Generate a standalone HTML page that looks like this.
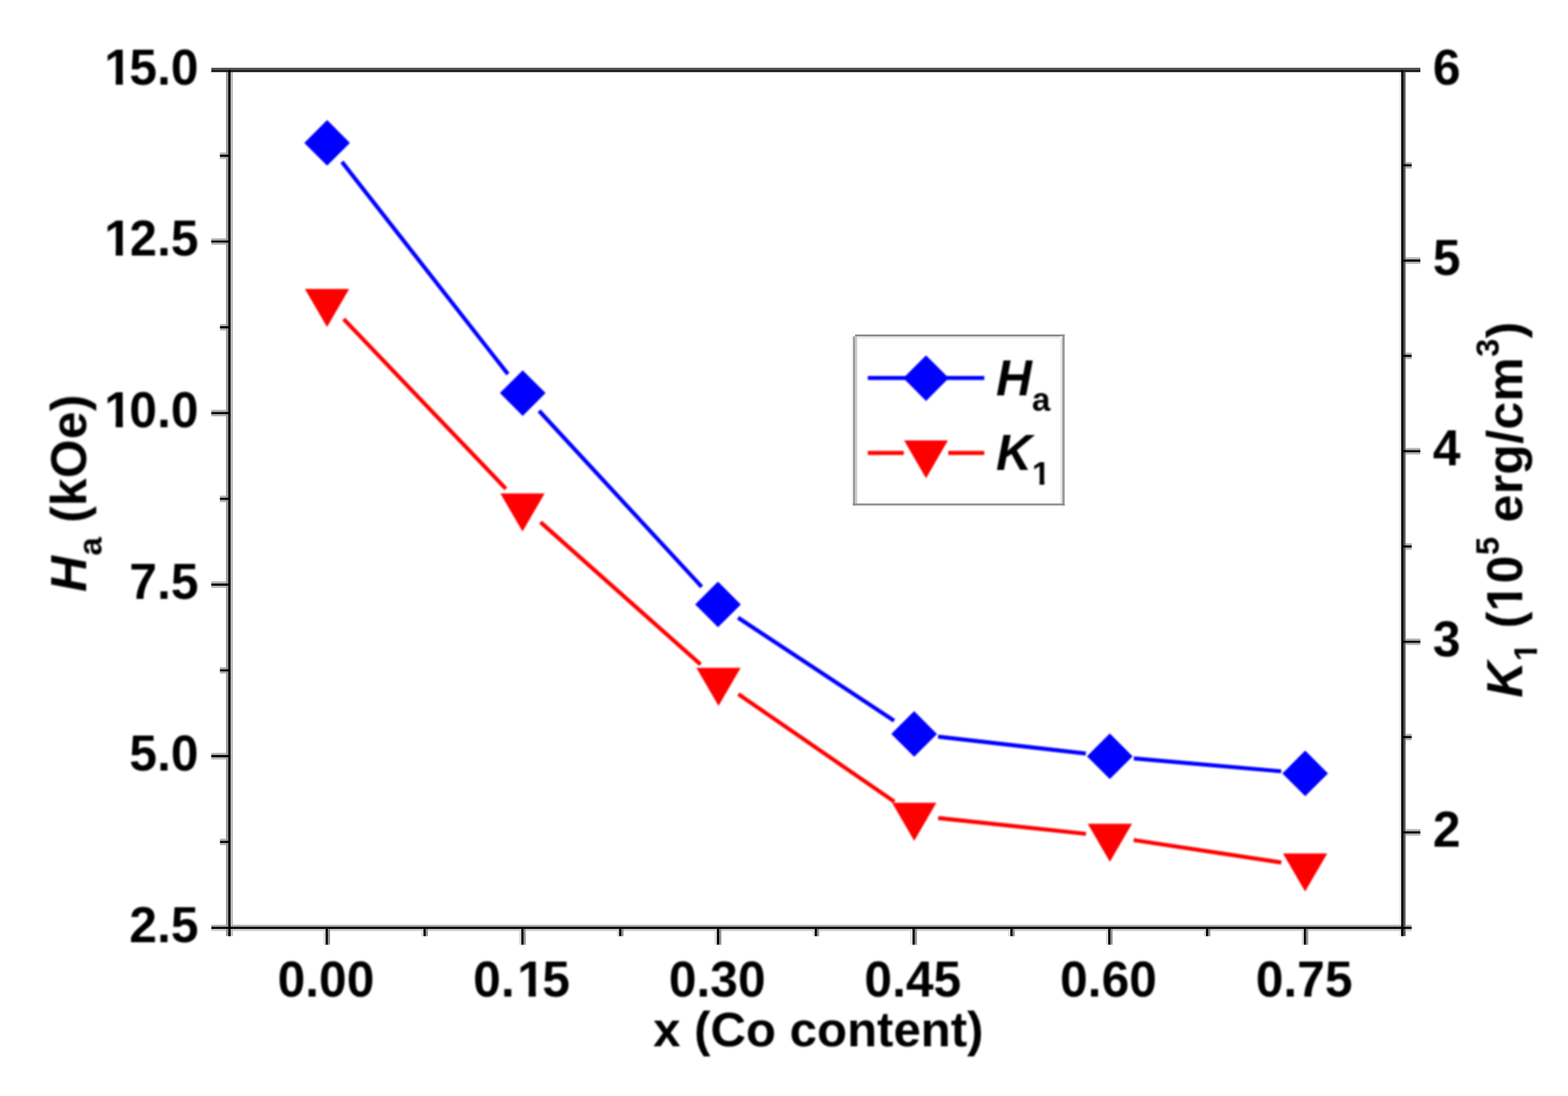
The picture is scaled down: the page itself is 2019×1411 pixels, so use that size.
<!DOCTYPE html>
<html lang="en">
<head>
<meta charset="utf-8">
<title>Ha and K1 versus Co content</title>
<style>
html,body{margin:0;padding:0;background:#ffffff;}
body{width:2019px;height:1411px;overflow:hidden;position:relative;}
svg{display:block;position:absolute;left:0;top:0;}
</style>
</head>
<body>
<svg width="2019" height="1411" viewBox="0 0 2019 1411">
<defs><filter id="soft" x="0" y="0" width="2019" height="1411" filterUnits="userSpaceOnUse" color-interpolation-filters="sRGB"><feGaussianBlur stdDeviation="0.85"/></filter></defs>
<rect x="0" y="0" width="2019" height="1411" fill="#ffffff"/>
<g id="frame">
<rect x="291.0" y="90.0" width="3.00" height="1115.20" fill="#999999" style="mix-blend-mode:darken"/>
<rect x="294.0" y="90.0" width="2.90" height="1115.20" fill="#000000" style="mix-blend-mode:darken"/>
<rect x="296.9" y="90.0" width="3.00" height="1115.20" fill="#bbbbbb" style="mix-blend-mode:darken"/>
<rect x="1801.5" y="90.0" width="2.70" height="1115.20" fill="#eeeeee" style="mix-blend-mode:darken"/>
<rect x="1804.2" y="90.0" width="2.80" height="1115.20" fill="#0a0a0a" style="mix-blend-mode:darken"/>
<rect x="1807.0" y="90.0" width="2.80" height="1115.20" fill="#555555" style="mix-blend-mode:darken"/>
<rect x="272.1" y="1190.6" width="1545.60" height="2.60" fill="#aaaaaa" style="mix-blend-mode:darken"/>
<rect x="272.1" y="1195.9" width="1545.60" height="2.70" fill="#cccccc" style="mix-blend-mode:darken"/>
<rect x="272.1" y="1193.2" width="1545.60" height="2.70" fill="#000000" style="mix-blend-mode:darken"/>
<rect x="294.0" y="1190.6" width="2.90" height="14.60" fill="#000000" style="mix-blend-mode:darken"/>
<rect x="1804.2" y="1190.6" width="2.80" height="14.60" fill="#0a0a0a" style="mix-blend-mode:darken"/>
<rect x="272.1" y="87.3" width="1556.80" height="2.50" fill="#444444" style="mix-blend-mode:darken"/>
<rect x="272.1" y="89.8" width="1556.80" height="3.10" fill="#222222" style="mix-blend-mode:darken"/>
<rect x="294.0" y="90.4" width="2.90" height="2.80" fill="#000000" style="mix-blend-mode:darken"/>
<rect x="1804.2" y="90.4" width="2.80" height="2.80" fill="#0a0a0a" style="mix-blend-mode:darken"/>
<rect x="283.2" y="196.32" width="11.80" height="2.80" fill="#b3b3b3" style="mix-blend-mode:darken"/>
<rect x="283.2" y="201.92" width="11.80" height="2.80" fill="#b3b3b3" style="mix-blend-mode:darken"/>
<rect x="283.2" y="199.12" width="11.80" height="2.80" fill="#000000" style="mix-blend-mode:darken"/>
<rect x="272.1" y="306.74" width="22.90" height="2.80" fill="#b3b3b3" style="mix-blend-mode:darken"/>
<rect x="272.1" y="312.34" width="22.90" height="2.80" fill="#b3b3b3" style="mix-blend-mode:darken"/>
<rect x="272.1" y="309.54" width="22.90" height="2.80" fill="#000000" style="mix-blend-mode:darken"/>
<rect x="283.2" y="417.16" width="11.80" height="2.80" fill="#b3b3b3" style="mix-blend-mode:darken"/>
<rect x="283.2" y="422.76" width="11.80" height="2.80" fill="#b3b3b3" style="mix-blend-mode:darken"/>
<rect x="283.2" y="419.96" width="11.80" height="2.80" fill="#000000" style="mix-blend-mode:darken"/>
<rect x="272.1" y="527.58" width="22.90" height="2.80" fill="#b3b3b3" style="mix-blend-mode:darken"/>
<rect x="272.1" y="533.18" width="22.90" height="2.80" fill="#b3b3b3" style="mix-blend-mode:darken"/>
<rect x="272.1" y="530.38" width="22.90" height="2.80" fill="#000000" style="mix-blend-mode:darken"/>
<rect x="283.2" y="638.0" width="11.80" height="2.80" fill="#b3b3b3" style="mix-blend-mode:darken"/>
<rect x="283.2" y="643.6" width="11.80" height="2.80" fill="#b3b3b3" style="mix-blend-mode:darken"/>
<rect x="283.2" y="640.8" width="11.80" height="2.80" fill="#000000" style="mix-blend-mode:darken"/>
<rect x="272.1" y="748.42" width="22.90" height="2.80" fill="#b3b3b3" style="mix-blend-mode:darken"/>
<rect x="272.1" y="754.02" width="22.90" height="2.80" fill="#b3b3b3" style="mix-blend-mode:darken"/>
<rect x="272.1" y="751.22" width="22.90" height="2.80" fill="#000000" style="mix-blend-mode:darken"/>
<rect x="283.2" y="858.84" width="11.80" height="2.80" fill="#b3b3b3" style="mix-blend-mode:darken"/>
<rect x="283.2" y="864.44" width="11.80" height="2.80" fill="#b3b3b3" style="mix-blend-mode:darken"/>
<rect x="283.2" y="861.64" width="11.80" height="2.80" fill="#000000" style="mix-blend-mode:darken"/>
<rect x="272.1" y="969.26" width="22.90" height="2.80" fill="#b3b3b3" style="mix-blend-mode:darken"/>
<rect x="272.1" y="974.86" width="22.90" height="2.80" fill="#b3b3b3" style="mix-blend-mode:darken"/>
<rect x="272.1" y="972.06" width="22.90" height="2.80" fill="#000000" style="mix-blend-mode:darken"/>
<rect x="283.2" y="1079.68" width="11.80" height="2.80" fill="#b3b3b3" style="mix-blend-mode:darken"/>
<rect x="283.2" y="1085.28" width="11.80" height="2.80" fill="#b3b3b3" style="mix-blend-mode:darken"/>
<rect x="283.2" y="1082.48" width="11.80" height="2.80" fill="#000000" style="mix-blend-mode:darken"/>
<rect x="1806.0" y="208.59" width="11.70" height="2.80" fill="#b3b3b3" style="mix-blend-mode:darken"/>
<rect x="1806.0" y="214.19" width="11.70" height="2.80" fill="#b3b3b3" style="mix-blend-mode:darken"/>
<rect x="1806.0" y="211.39" width="11.70" height="2.80" fill="#000000" style="mix-blend-mode:darken"/>
<rect x="1806.0" y="331.28" width="22.90" height="2.80" fill="#b3b3b3" style="mix-blend-mode:darken"/>
<rect x="1806.0" y="336.88" width="22.90" height="2.80" fill="#b3b3b3" style="mix-blend-mode:darken"/>
<rect x="1806.0" y="334.08" width="22.90" height="2.80" fill="#000000" style="mix-blend-mode:darken"/>
<rect x="1806.0" y="453.97" width="11.70" height="2.80" fill="#b3b3b3" style="mix-blend-mode:darken"/>
<rect x="1806.0" y="459.57" width="11.70" height="2.80" fill="#b3b3b3" style="mix-blend-mode:darken"/>
<rect x="1806.0" y="456.77" width="11.70" height="2.80" fill="#000000" style="mix-blend-mode:darken"/>
<rect x="1806.0" y="576.66" width="22.90" height="2.80" fill="#b3b3b3" style="mix-blend-mode:darken"/>
<rect x="1806.0" y="582.26" width="22.90" height="2.80" fill="#b3b3b3" style="mix-blend-mode:darken"/>
<rect x="1806.0" y="579.46" width="22.90" height="2.80" fill="#000000" style="mix-blend-mode:darken"/>
<rect x="1806.0" y="699.34" width="11.70" height="2.80" fill="#b3b3b3" style="mix-blend-mode:darken"/>
<rect x="1806.0" y="704.94" width="11.70" height="2.80" fill="#b3b3b3" style="mix-blend-mode:darken"/>
<rect x="1806.0" y="702.14" width="11.70" height="2.80" fill="#000000" style="mix-blend-mode:darken"/>
<rect x="1806.0" y="822.03" width="22.90" height="2.80" fill="#b3b3b3" style="mix-blend-mode:darken"/>
<rect x="1806.0" y="827.63" width="22.90" height="2.80" fill="#b3b3b3" style="mix-blend-mode:darken"/>
<rect x="1806.0" y="824.83" width="22.90" height="2.80" fill="#000000" style="mix-blend-mode:darken"/>
<rect x="1806.0" y="944.72" width="11.70" height="2.80" fill="#b3b3b3" style="mix-blend-mode:darken"/>
<rect x="1806.0" y="950.32" width="11.70" height="2.80" fill="#b3b3b3" style="mix-blend-mode:darken"/>
<rect x="1806.0" y="947.52" width="11.70" height="2.80" fill="#000000" style="mix-blend-mode:darken"/>
<rect x="1806.0" y="1067.41" width="22.90" height="2.80" fill="#b3b3b3" style="mix-blend-mode:darken"/>
<rect x="1806.0" y="1073.01" width="22.90" height="2.80" fill="#b3b3b3" style="mix-blend-mode:darken"/>
<rect x="1806.0" y="1070.21" width="22.90" height="2.80" fill="#000000" style="mix-blend-mode:darken"/>
<rect x="416.55" y="1194.5" width="2.80" height="21.80" fill="#dbdbdb" style="mix-blend-mode:darken"/>
<rect x="422.15" y="1194.5" width="2.80" height="21.80" fill="#8f8f8f" style="mix-blend-mode:darken"/>
<rect x="419.35" y="1194.5" width="2.80" height="21.80" fill="#000000" style="mix-blend-mode:darken"/>
<rect x="542.5" y="1194.5" width="2.80" height="10.80" fill="#dbdbdb" style="mix-blend-mode:darken"/>
<rect x="548.1" y="1194.5" width="2.80" height="10.80" fill="#8f8f8f" style="mix-blend-mode:darken"/>
<rect x="545.3" y="1194.5" width="2.80" height="10.80" fill="#000000" style="mix-blend-mode:darken"/>
<rect x="668.45" y="1194.5" width="2.80" height="21.80" fill="#dbdbdb" style="mix-blend-mode:darken"/>
<rect x="674.05" y="1194.5" width="2.80" height="21.80" fill="#8f8f8f" style="mix-blend-mode:darken"/>
<rect x="671.25" y="1194.5" width="2.80" height="21.80" fill="#000000" style="mix-blend-mode:darken"/>
<rect x="794.4" y="1194.5" width="2.80" height="10.80" fill="#dbdbdb" style="mix-blend-mode:darken"/>
<rect x="800.0" y="1194.5" width="2.80" height="10.80" fill="#8f8f8f" style="mix-blend-mode:darken"/>
<rect x="797.2" y="1194.5" width="2.80" height="10.80" fill="#000000" style="mix-blend-mode:darken"/>
<rect x="920.35" y="1194.5" width="2.80" height="21.80" fill="#dbdbdb" style="mix-blend-mode:darken"/>
<rect x="925.95" y="1194.5" width="2.80" height="21.80" fill="#8f8f8f" style="mix-blend-mode:darken"/>
<rect x="923.15" y="1194.5" width="2.80" height="21.80" fill="#000000" style="mix-blend-mode:darken"/>
<rect x="1046.3" y="1194.5" width="2.80" height="10.80" fill="#dbdbdb" style="mix-blend-mode:darken"/>
<rect x="1051.9" y="1194.5" width="2.80" height="10.80" fill="#8f8f8f" style="mix-blend-mode:darken"/>
<rect x="1049.1" y="1194.5" width="2.80" height="10.80" fill="#000000" style="mix-blend-mode:darken"/>
<rect x="1172.25" y="1194.5" width="2.80" height="21.80" fill="#dbdbdb" style="mix-blend-mode:darken"/>
<rect x="1177.85" y="1194.5" width="2.80" height="21.80" fill="#8f8f8f" style="mix-blend-mode:darken"/>
<rect x="1175.05" y="1194.5" width="2.80" height="21.80" fill="#000000" style="mix-blend-mode:darken"/>
<rect x="1298.2" y="1194.5" width="2.80" height="10.80" fill="#dbdbdb" style="mix-blend-mode:darken"/>
<rect x="1303.8" y="1194.5" width="2.80" height="10.80" fill="#8f8f8f" style="mix-blend-mode:darken"/>
<rect x="1301.0" y="1194.5" width="2.80" height="10.80" fill="#000000" style="mix-blend-mode:darken"/>
<rect x="1424.15" y="1194.5" width="2.80" height="21.80" fill="#dbdbdb" style="mix-blend-mode:darken"/>
<rect x="1429.75" y="1194.5" width="2.80" height="21.80" fill="#8f8f8f" style="mix-blend-mode:darken"/>
<rect x="1426.95" y="1194.5" width="2.80" height="21.80" fill="#000000" style="mix-blend-mode:darken"/>
<rect x="1550.1" y="1194.5" width="2.80" height="10.80" fill="#dbdbdb" style="mix-blend-mode:darken"/>
<rect x="1555.7" y="1194.5" width="2.80" height="10.80" fill="#8f8f8f" style="mix-blend-mode:darken"/>
<rect x="1552.9" y="1194.5" width="2.80" height="10.80" fill="#000000" style="mix-blend-mode:darken"/>
<rect x="1676.05" y="1194.5" width="2.80" height="21.80" fill="#dbdbdb" style="mix-blend-mode:darken"/>
<rect x="1681.65" y="1194.5" width="2.80" height="21.80" fill="#8f8f8f" style="mix-blend-mode:darken"/>
<rect x="1678.85" y="1194.5" width="2.80" height="21.80" fill="#000000" style="mix-blend-mode:darken"/>
<rect x="1098.2" y="430.6" width="272.7" height="220.15" fill="#ffffff"/>
<rect x="1101" y="430.6" width="269.9" height="2.4" fill="#888888"/>
<rect x="1103.85" y="433" width="261.55" height="2.7" fill="#e6e6e6"/>
<rect x="1098.2" y="433" width="2.8" height="217.75" fill="#9c9c9c"/>
<rect x="1101" y="433" width="2.85" height="215.3" fill="#cccccc"/>
<rect x="1365.4" y="435.7" width="2.5" height="212.6" fill="#e4e4e4"/>
<rect x="1367.9" y="430.6" width="3.0" height="220.15" fill="#9a9a9a"/>
<rect x="1098.2" y="648.2" width="272.7" height="2.55" fill="#8c8c8c"/>
</g>
<g id="chart" filter="url(#soft)">
<g id="line-ha" stroke="#0000ff" stroke-width="5.2" fill="none"><line x1="440.29" y1="208.32" x2="654.01" y2="481.68"/><line x1="694.14" y1="528.87" x2="903.46" y2="755.43"/><line x1="950.37" y1="795.27" x2="1151.23" y2="927.83"/><line x1="1207.90" y1="948.42" x2="1398.20" y2="970.18"/><line x1="1459.88" y1="976.40" x2="1649.72" y2="993.00"/></g>
<g id="line-k1" stroke="#ff0000" stroke-width="5.2" fill="none"><line x1="442.53" y1="410.80" x2="651.37" y2="629.20"/><line x1="695.97" y1="672.20" x2="902.03" y2="855.40"/><line x1="950.72" y1="893.60" x2="1151.68" y2="1032.20"/><line x1="1208.02" y1="1053.10" x2="1398.28" y2="1073.50"/><line x1="1459.75" y1="1081.46" x2="1649.85" y2="1110.34"/></g>
<g id="pts-ha"><polygon points="421.20,154.50 450.60,183.90 421.20,213.30 391.80,183.90" fill="#0000ff"/><polygon points="673.10,476.70 702.50,506.10 673.10,535.50 643.70,506.10" fill="#0000ff"/><polygon points="924.50,748.80 953.90,778.20 924.50,807.60 895.10,778.20" fill="#0000ff"/><polygon points="1177.10,915.50 1206.50,944.90 1177.10,974.30 1147.70,944.90" fill="#0000ff"/><polygon points="1429.00,944.30 1458.40,973.70 1429.00,1003.10 1399.60,973.70" fill="#0000ff"/><polygon points="1680.60,966.30 1710.00,995.70 1680.60,1025.10 1651.20,995.70" fill="#0000ff"/></g>
<g id="pts-k1"><polygon points="392.60,372.07 449.60,372.07 421.10,421.07" fill="#ff0000"/><polygon points="644.30,635.27 701.30,635.27 672.80,684.27" fill="#ff0000"/><polygon points="896.70,859.67 953.70,859.67 925.20,908.67" fill="#ff0000"/><polygon points="1148.70,1033.47 1205.70,1033.47 1177.20,1082.47" fill="#ff0000"/><polygon points="1400.60,1060.47 1457.60,1060.47 1429.10,1109.47" fill="#ff0000"/><polygon points="1652.00,1098.67 1709.00,1098.67 1680.50,1147.67" fill="#ff0000"/></g>
<g id="legend">
<line x1="1117.4" y1="486.6" x2="1267.4" y2="486.6" stroke="#0000ff" stroke-width="5.2"/>
<polygon points="1192.40,457.40 1221.70,486.80 1192.40,516.20 1163.10,486.80" fill="#0000ff"/>
<line x1="1117.4" y1="583.2" x2="1163.8" y2="583.2" stroke="#ff0000" stroke-width="5.2"/>
<line x1="1221" y1="583.2" x2="1267.4" y2="583.2" stroke="#ff0000" stroke-width="5.2"/>
<polygon points="1164.20,566.93 1220.60,566.93 1192.40,615.73" fill="#ff0000"/>
</g>
<g id="labels" font-family="'Liberation Sans', Arial, Helvetica, sans-serif" font-weight="700" fill="#000000" font-size="64">
<g id="labels-h">
<text x="252.2" y="108.50" text-anchor="end" dx="3.3 -3.3 0 0">15.0</text>
<text x="252.2" y="329.34" text-anchor="end" dx="3.3 -3.3 0 0">12.5</text>
<text x="252.2" y="550.18" text-anchor="end" dx="3.3 -3.3 0 0">10.0</text>
<text x="255.5" y="771.02" text-anchor="end">7.5</text>
<text x="255.5" y="991.86" text-anchor="end">5.0</text>
<text x="255.5" y="1212.70" text-anchor="end">2.5</text>
<text x="1845" y="108.50" text-anchor="start">6</text>
<text x="1845" y="353.88" text-anchor="start">5</text>
<text x="1845" y="599.26" text-anchor="start">4</text>
<text x="1845" y="844.63" text-anchor="start">3</text>
<text x="1845" y="1090.01" text-anchor="start">2</text>
<text x="419.70" y="1282.5" text-anchor="middle">0.00</text>
<text x="671.60" y="1282.5" text-anchor="middle" dx="0 0 3.3 -3.3">0.15</text>
<text x="923.50" y="1282.5" text-anchor="middle">0.30</text>
<text x="1175.40" y="1282.5" text-anchor="middle">0.45</text>
<text x="1427.30" y="1282.5" text-anchor="middle">0.60</text>
<text x="1679.20" y="1282.5" text-anchor="middle">0.75</text>
<text x="1053.7" y="1347.4" text-anchor="middle" font-size="63.3">x (Co content)</text>
</g>
<text transform="translate(110.9,634.8) rotate(-90)" text-anchor="middle" letter-spacing="0.4"><tspan font-style="italic">H</tspan><tspan font-size="42.5" dy="19.8">a</tspan><tspan dy="-19.8"> (kOe)</tspan></text>
<text transform="translate(1959.5,655.8) rotate(-90)" text-anchor="middle" letter-spacing="0.5"><tspan font-style="italic">K</tspan><tspan font-size="42.5" dy="19.4">1</tspan><tspan dy="-19.4"> (10</tspan><tspan font-size="42.5" dy="-29.5">5</tspan><tspan dy="29.5"> erg/cm</tspan><tspan font-size="42.5" dy="-29.5">3</tspan><tspan dy="29.5">)</tspan></text>
<g id="labels-legend">
<text x="1282.6" y="509.2"><tspan font-style="italic">H</tspan><tspan font-size="42.5" dy="19.6">a</tspan></text>
<text x="1282.6" y="604.5"><tspan font-style="italic">K</tspan><tspan font-size="42.5" dy="19.4">1</tspan></text>
</g>
</g>
<g id="tidy" fill="#ffffff"><g><rect x="136.67" y="100.77" width="12.31" height="9.33"/><rect x="158.16" y="100.77" width="11.49" height="9.33"/></g><g><rect x="136.67" y="321.61" width="12.31" height="9.33"/><rect x="158.16" y="321.61" width="11.49" height="9.33"/></g><g><rect x="136.67" y="542.45" width="12.31" height="9.33"/><rect x="158.16" y="542.45" width="11.49" height="9.33"/></g><g><rect x="668.42" y="1274.77" width="12.31" height="9.33"/><rect x="689.91" y="1274.77" width="11.49" height="9.33"/></g><g transform="translate(1959.5,655.8) rotate(-90)"><rect x="-194.40" y="13.86" width="8.64" height="7.14"/><rect x="-179.53" y="13.86" width="8.10" height="7.14"/></g><g transform="translate(1959.5,655.8) rotate(-90)"><rect x="-128.81" y="-7.73" width="12.31" height="9.33"/><rect x="-107.32" y="-7.73" width="11.49" height="9.33"/></g><g><rect x="1329.90" y="618.36" width="8.64" height="7.14"/><rect x="1344.77" y="618.36" width="8.10" height="7.14"/></g></g>
</g>
</svg>
</body>
</html>
